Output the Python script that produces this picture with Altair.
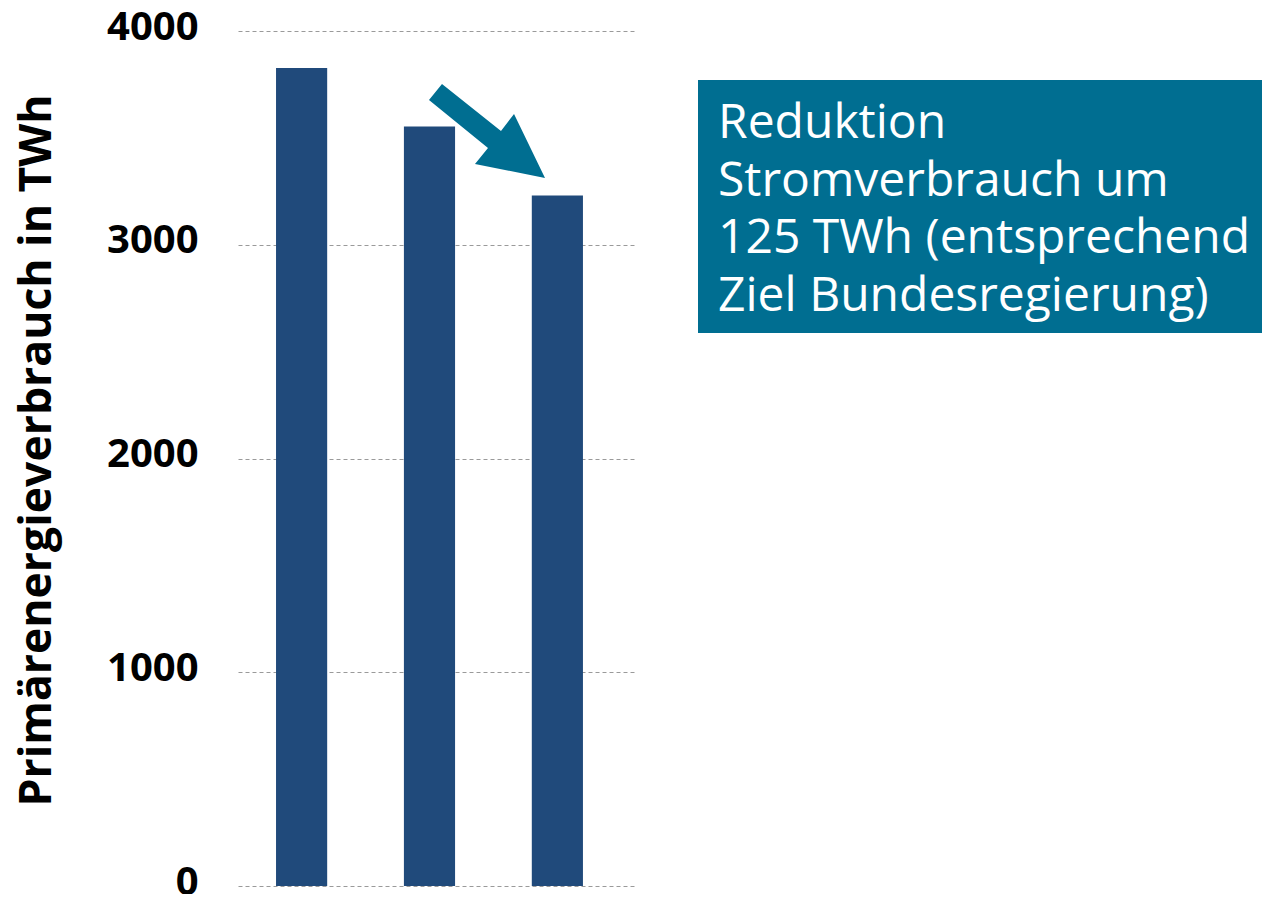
import altair as alt
import pandas as pd

# --- data ---
categories = ["A", "B", "C"]
values = [3827, 3553, 3230]
y_ticks = [0, 1000, 2000, 3000, 4000]
box_lines = ["Reduktion", "Stromverbrauch um", "125 TWh (entsprechend", "Ziel Bundesregierung)"]
y_title = "Primärenergieverbrauch in TWh"

BAR = "#204A7B"
TEAL = "#006E91"

df = pd.DataFrame({"cat": categories, "val": values})
one = pd.DataFrame({"k": [0]})

bars = alt.Chart(df).mark_bar(color=BAR).encode(
    x=alt.X("cat:N", sort=categories, axis=None,
            scale=alt.Scale(paddingInner=0.6, paddingOuter=0.36, align=0.413, round=False)),
    y=alt.Y("val:Q",
            scale=alt.Scale(domain=[0, 4000], nice=False, zero=True),
            axis=alt.Axis(values=y_ticks, format="d", title=y_title, grid=True, gridDash=[4, 3],
                          gridColor="#9a9a9a", gridWidth=1, domain=False, ticks=False,
                          tickSize=0, labelPadding=40, labelFont="Open Sans",
                          labelFontSize=40, labelFontWeight="bold", labelColor="#000000",
                          labelBaseline="middle", labelOffset=-4,
                          titleFont="Open Sans", titleFontSize=44.5, titleFontWeight="bold",
                          titleColor="#000000", titleAngle=270, titleAlign="center",
                          titleBaseline="alphabetic", titleX=-188, titleY=419)),
)

box = alt.Chart(one).mark_rect(color=TEAL).encode(
    x=alt.value(460), x2=alt.value(1024), y=alt.value(49), y2=alt.value(302)
)

text = alt.Chart(one).mark_text(
    text=box_lines, align="left", baseline="alphabetic", font="Open Sans",
    fontSize=48, lineHeight=57.5, color="white"
).encode(x=alt.value(480), y=alt.value(107))

arrow_path = ("M -0.776 -0.810 L -1.0 -0.534 L 0.017 0.293 L -0.207 0.569 "
              "L 1.0 0.810 L 0.466 -0.293 L 0.241 0.0 Z")
arrow = alt.Chart(one).mark_point(
    shape=arrow_path, filled=True, color=TEAL, opacity=1, size=13456, strokeWidth=0
).encode(x=alt.value(249), y=alt.value(100))

chart = alt.layer(bars, box, text, arrow).properties(
    width=399, height=855,
    autosize=alt.AutoSizeParams(type="none"),
    padding={"left": 230, "top": 23, "right": 625, "bottom": 8},
).configure_view(stroke=None)

chart.save("out.html", embed_options={"renderer": "svg", "actions": False})
